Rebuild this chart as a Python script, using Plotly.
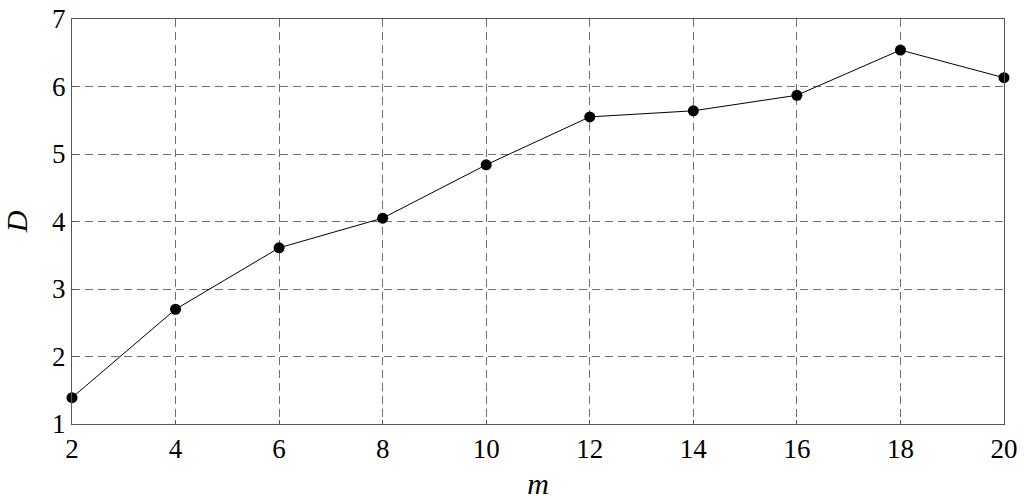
import plotly.graph_objects as go

# values
m_vals = [2, 4, 6, 8, 10, 12, 14, 16, 18, 20]
d_vals = [1.39, 2.70, 3.61, 4.05, 4.84, 5.55, 5.64, 5.87, 6.54, 6.13]

x_ticks = [2, 4, 6, 8, 10, 12, 14, 16, 18, 20]
y_ticks = [1, 2, 3, 4, 5, 6, 7]

serif = "Liberation Serif, Times New Roman, serif"
grid_col = "#6e6e6e"

fig = go.Figure()

fig.add_trace(go.Scatter(
    x=m_vals, y=d_vals,
    mode="lines+markers",
    line=dict(color="black", width=1),
    marker=dict(color="black", size=11),
    cliponaxis=False,
    showlegend=False,
))

axis_common = dict(
    showline=True, linecolor="#555", linewidth=1.2, mirror=True,
    showgrid=True, gridcolor=grid_col, gridwidth=1, griddash="8px,5px",
    zeroline=False, automargin=False,
    ticks="inside", ticklen=4, tickcolor="#555",
    tickfont=dict(family=serif, size=27, color="black"),
)

fig.update_layout(
    width=1024, height=500,
    plot_bgcolor="white", paper_bgcolor="white",
    margin=dict(l=72, r=20, t=19, b=76, pad=0),
    xaxis=dict(
        range=[2, 20], tickvals=x_ticks,
        title=dict(text="<i>m</i>", font=dict(family=serif, size=30, color="black"), standoff=12),
        **axis_common,
    ),
    yaxis=dict(
        range=[1, 7], tickvals=y_ticks,
        title=dict(text="<i>D</i>", font=dict(family=serif, size=30, color="black"), standoff=16),
        **axis_common,
    ),
)

# page body has a default 8px margin, drop it so the chart sits at 0,0
fig.write_html(
    "out.html",
    config={"displayModeBar": False},
    post_script="document.body.style.margin='0px';",
)
